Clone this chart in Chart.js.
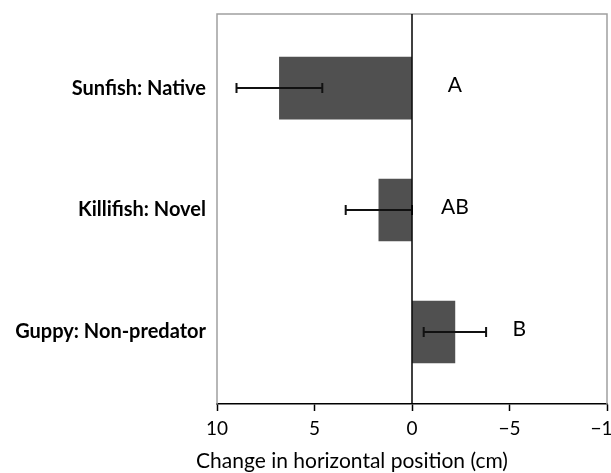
<!DOCTYPE html>
<html>
<head>
<meta charset="utf-8">
<script src="https://cdn.jsdelivr.net/npm/chart.js@4"></script>
<style>
  html, body { margin: 0; padding: 0; background: #fff; }
  #wrap { width: 611px; height: 473px; }
</style>
</head>
<body>
<div id="wrap"><canvas id="fish_Chart" width="611" height="473"></canvas></div>
<script>
// 데이터
const categories = ['Sunfish: Native', 'Killifish: Novel', 'Guppy: Non-predator'];
const meanChange = [6.8, 1.7, -2.2];
const errorSize = [2.2, 1.7, 1.6];
const groupLetters = ['A', 'AB', 'B'];
const letterX = [-2.2, -2.2, -5.5];
const xTicks = [10, 5, 0, -5, -10];
const xTitle = 'Change in horizontal position (cm)';

const FONT = 'Lato, "Open Sans", sans-serif';

// 테두리, 오차 막대, 그룹 문자, 축 제목
const errorBarPlugin = {
    id: 'errorBars',
    beforeDatasetsDraw(chart) {
        const { ctx, chartArea } = chart;
        ctx.save();
        ctx.strokeStyle = '#a0a0a0';
        ctx.lineWidth = 1.5;
        ctx.beginPath();
        ctx.moveTo(chartArea.left, chartArea.bottom);
        ctx.lineTo(chartArea.left, chartArea.top);
        ctx.lineTo(chartArea.right, chartArea.top);
        ctx.lineTo(chartArea.right, chartArea.bottom);
        ctx.stroke();
        ctx.restore();
    },
    afterDatasetsDraw(chart) {
        const { ctx, scales } = chart;
        const xs = scales.x, ys = scales.y;
        ctx.save();
        ctx.strokeStyle = '#111';
        ctx.lineWidth = 2;
        meanChange.forEach((v, i) => {
            const y = ys.getPixelForValue(i);
            const x1 = xs.getPixelForValue(v - errorSize[i]);
            const x2 = xs.getPixelForValue(v + errorSize[i]);
            ctx.beginPath();
            ctx.moveTo(x1, y); ctx.lineTo(x2, y);
            ctx.moveTo(x1, y - 5); ctx.lineTo(x1, y + 5);
            ctx.moveTo(x2, y - 5); ctx.lineTo(x2, y + 5);
            ctx.stroke();
        });
        // 0 기준선
        const x0 = xs.getPixelForValue(0);
        ctx.strokeStyle = '#000';
        ctx.lineWidth = 1.5;
        ctx.beginPath();
        ctx.moveTo(x0, chart.chartArea.top);
        ctx.lineTo(x0, chart.chartArea.bottom);
        ctx.stroke();

        ctx.fillStyle = '#000';
        ctx.font = '21px ' + FONT;
        ctx.textAlign = 'center';
        ctx.textBaseline = 'middle';
        groupLetters.forEach((t, i) => {
            ctx.fillText(t, xs.getPixelForValue(letterX[i]), ys.getPixelForValue(i) - 3);
        });

        // x축 제목 (원본처럼 왼쪽으로 치우침)
        ctx.font = '21px ' + FONT;
        ctx.fillText(xTitle, 352, 461);
        ctx.restore();
    }
};

const ctxFish = document.getElementById('fish_Chart').getContext('2d');
new Chart(ctxFish, {
    type: 'bar',
    data: {
        datasets: [{
            data: meanChange.map((v, i) => ({ x: v, y: i })),
            backgroundColor: 'rgb(80, 80, 80)',
            borderWidth: 0,
            barThickness: 62,
        }]
    },
    options: {
        indexAxis: 'y',
        responsive: false,
        animation: false,
        layout: {
            padding: { top: 14, right: 4, left: 0, bottom: 0 }
        },
        plugins: {
            legend: { display: false },
            tooltip: { enabled: false }
        },
        scales: {
            x: {
                type: 'linear',
                reverse: true,
                offset: false,
                min: -10,
                max: 10,
                afterBuildTicks: (scale) => {
                    scale.ticks = xTicks.map(v => ({ value: v }));
                },
                afterFit: (scale) => {
                    scale.height = 69;
                    scale.paddingLeft = 0;
                    scale.paddingRight = 0;
                },
                border: { display: true, color: '#000', width: 1.5 },
                grid: {
                    drawOnChartArea: false,
                    drawTicks: true,
                    tickLength: 7,
                    tickColor: '#000',
                    tickWidth: 1.5
                },
                ticks: {
                    color: '#000',
                    padding: 6,
                    font: { family: FONT, size: 19 },
                    callback: (v) => v < 0 ? '\u2212' + Math.abs(v) : String(v)
                },
                title: { display: false }
            },
            y: {
                type: 'linear',
                reverse: true,
                offset: false,
                min: -0.607,
                max: 2.59,
                afterBuildTicks: (scale) => {
                    scale.ticks = categories.map((c, i) => ({ value: i }));
                },
                afterFit: (scale) => {
                    scale.width = 217;
                    scale.paddingTop = 0;
                    scale.paddingBottom = 0;
                },
                border: { display: false },
                grid: { display: false, drawTicks: false },
                ticks: {
                    color: '#000',
                    padding: 11,
                    font: { family: FONT, size: 20, weight: 'bold' },
                    callback: (v) => categories[v]
                }
            }
        }
    },
    plugins: [errorBarPlugin]
});
</script>
</body>
</html>
